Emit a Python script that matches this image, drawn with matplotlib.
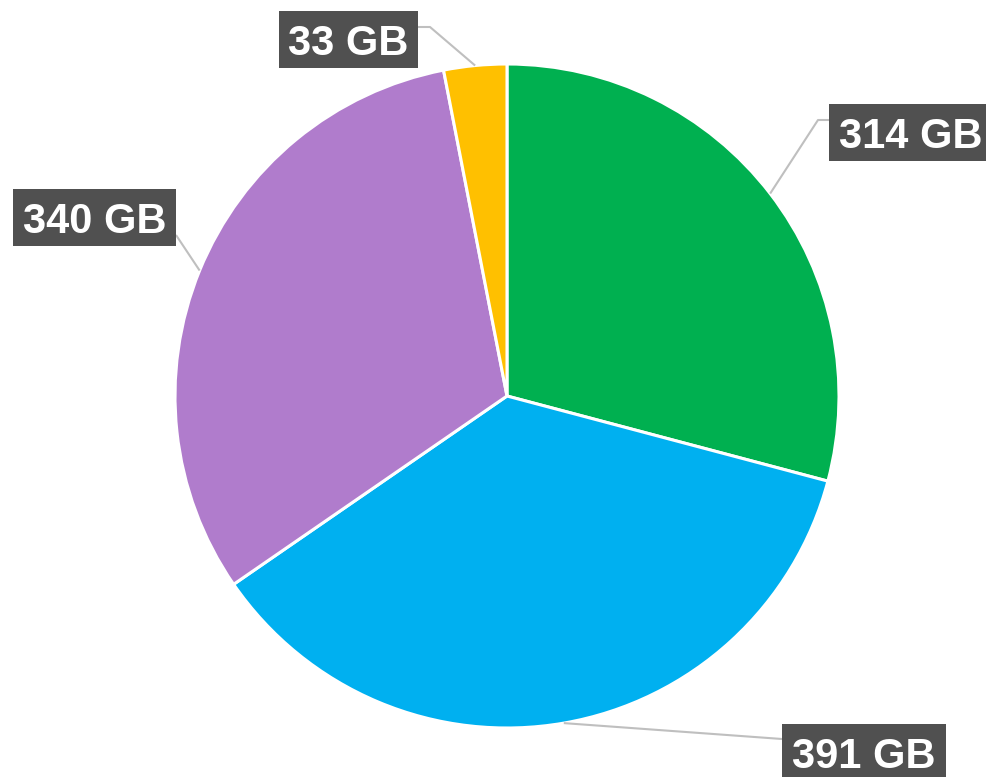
import numpy as np
import matplotlib.pyplot as plt
from matplotlib.patches import Rectangle

plt.rcParams['font.family'] = ['Liberation Sans', 'DejaVu Sans']

labels = ["314 GB", "391 GB", "340 GB", "33 GB"]
sizes = [314, 391, 340, 33]
colors = ["#00B050", "#00B0F0", "#B07CCC", "#FFC000"]

# label boxes in pixel coords from the top-left: (left, top, width, height)
boxes = [(829, 104, 163, 57), (782, 724, 164, 57), (13, 189, 163, 57), (279, 11, 139, 57)]
# elbow points of the leader lines (None = straight)
elbows = [(818, 120), None, None, (430, 27)]
anchors = [(829, 120), (782, 739), (176, 235), (418, 27)]

W, H = 986, 777
fig = plt.figure(figsize=(W / 100, H / 100), dpi=100)
ax = fig.add_axes([0, 0, 1, 1])

cx, cy, r = 507, H - 396, 332
wedges, _ = ax.pie(sizes, colors=colors, startangle=90, counterclock=False,
                   radius=r, center=(cx, cy),
                   wedgeprops=dict(edgecolor="white", linewidth=2.2))

for w, lab, (bx, by, bw, bh), elb, anc in zip(wedges, labels, boxes, elbows, anchors):
    mid = np.deg2rad((w.theta1 + w.theta2) / 2)
    px, py = cx + r * np.cos(mid), cy + r * np.sin(mid)
    xs = [px]
    ys = [py]
    if elb is not None:
        xs.append(elb[0])
        ys.append(H - elb[1])
    xs.append(anc[0])
    ys.append(H - anc[1])
    ax.plot(xs, ys, color="#BFBFBF", lw=1.5, zorder=1, solid_capstyle="butt")
    ax.add_patch(Rectangle((bx, H - by - bh), bw, bh, facecolor="#505050",
                           edgecolor="none", zorder=3))
    ax.text(bx + bw / 2, H - by - 44, lab, color="white", fontsize=30,
            fontweight="bold", ha="center", va="baseline", zorder=4)

ax.set_xlim(0, W)
ax.set_ylim(0, H)
ax.set_aspect("equal")
ax.axis("off")

fig.savefig("out.png", dpi=100, facecolor="white")
